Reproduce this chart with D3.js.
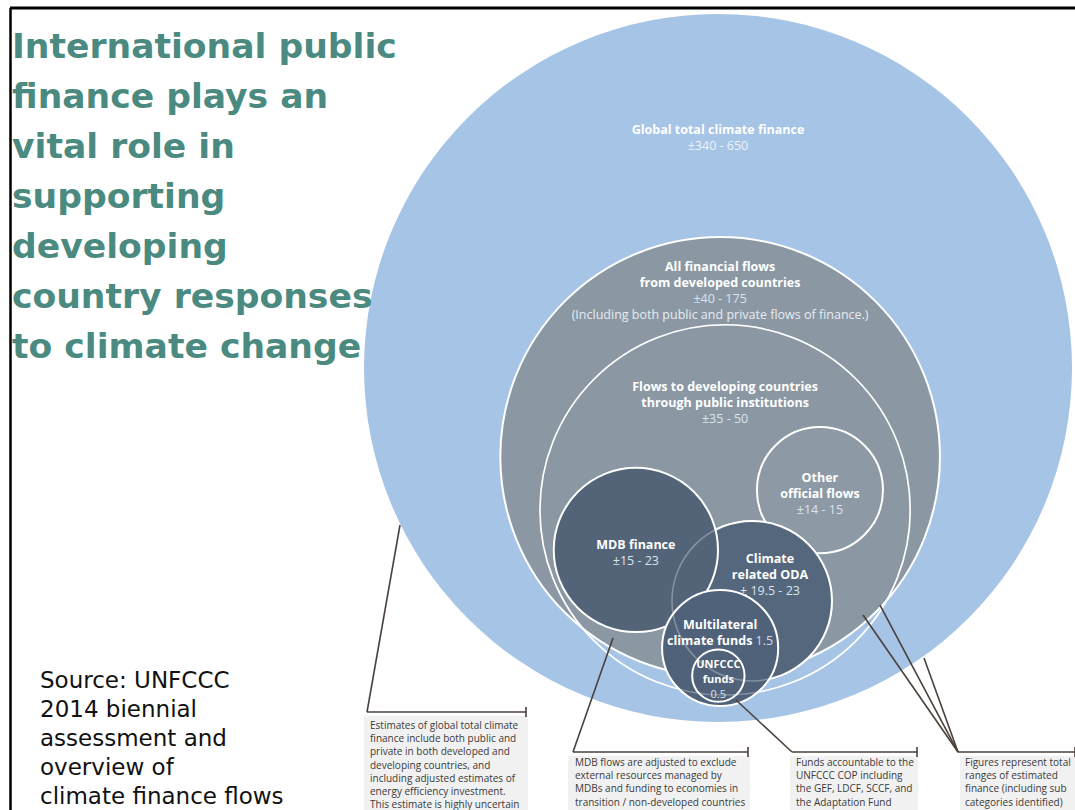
<!DOCTYPE html>
<html>
<head>
<meta charset="utf-8">
<script src="https://cdn.jsdelivr.net/npm/d3@7"></script>
<style>
  body { margin: 0; background: #fff; }
  svg { display: block; }
</style>
</head>
<body>
<div id="chart"></div>
<script>
// circle names, bold label lines and the range text shown under them
const circleNames = ["global", "allFlows", "publicInst", "otherOfficial", "oda", "mdb", "multilateral", "unfccc"];
const circleLabels = [
  ["Global total climate finance"],
  ["All financial flows", "from developed countries"],
  ["Flows to developing countries", "through public institutions"],
  ["Other", "official flows"],
  ["Climate", "related ODA"],
  ["MDB finance"],
  ["Multilateral", "climate funds"],
  ["UNFCCC", "funds"]
];
const circleRanges = ["±340 - 650", "±40 - 175", "±35 - 50", "±14 - 15", "± 19.5 - 23", "±15 - 23", "1.5", "0.5"];
const circleNotes = ["", "(Including both public and private flows of finance.)", "", "", "", "", "", ""];

const titleLines = ["International public", "finance plays an", "vital role in", "supporting", "developing", "country responses", "to climate change"];
const sourceLines = ["Source: UNFCCC", "2014 biennial", "assessment and", "overview of", "climate finance flows"];

const noteTexts = [
  ["Estimates of global total climate", "finance include both public and", "private in both developed and", "developing countries, and", "including adjusted estimates of", "energy efficiency investment.", "This estimate is highly uncertain"],
  ["MDB flows are adjusted to exclude", "external resources managed by", "MDBs and funding to economies in", "transition / non-developed countries"],
  ["Funds accountable to the", "UNFCCC COP including", "the GEF, LDCF, SCCF, and", "the Adaptation Fund"],
  ["Figures represent total", "ranges of estimated", "finance (including sub", "categories identified)"]
];

// layout in diagram units: big circle centred at 0,0 with radius 100
const layout = [
  { cx: 0, cy: 0, r: 100 },
  { cx: 0.6, cy: 25.1, r: 62.1 },
  { cx: 2.0, cy: 40.1, r: 52.3 },
  { cx: 28.8, cy: 34.5, r: 17.8 },
  { cx: 9.6, cy: 65.8, r: 22.6 },
  { cx: -23.2, cy: 51.4, r: 23.2 },
  { cx: 0.6, cy: 79.1, r: 16.4 },
  { cx: 0.1, cy: 86.9, r: 7.4 }
];
const fills = ["#a6c4e6", "#8b98a3", "none", "#8d9aa5", "#55677c", "#536479", "#506279", "#506279"];
const labelTop = [134, 271, 391, 482, 563, 549, 629, 668];
const labelDx = [0, 0, 0, 0, 18, 0, 0, 0];

const W = 1075, H = 810;
const svg = d3.select("#chart").append("svg").attr("width", W).attr("height", H);

const x = d3.scaleLinear().domain([-100, 100]).range([364, 1072]);
const y = d3.scaleLinear().domain([-100, 100]).range([14, 722]);
const r = d3.scaleLinear().domain([0, 100]).range([0, 354]);

const nodes = circleNames.map((n, i) => ({ name: n, lines: circleLabels[i], range: circleRanges[i], note: circleNotes[i], ...layout[i], fill: fills[i], top: labelTop[i], dx: labelDx[i] }));

// circles
svg.selectAll("circle.bubble")
  .data(nodes)
  .join("circle")
  .attr("class", "bubble")
  .attr("cx", d => x(d.cx))
  .attr("cy", d => y(d.cy))
  .attr("r", d => r(d.r))
  .attr("fill", d => d.fill)
  .attr("stroke", (d, i) => i === 0 ? "none" : "#fff")
  .attr("stroke-width", (d, i) => i === 2 ? 1.6 : 2);

// faint outlines showing through the overlaps
svg.selectAll("circle.ghost")
  .data(nodes.filter(d => ["publicInst", "oda"].includes(d.name)))
  .join("circle")
  .attr("class", "ghost")
  .attr("cx", d => x(d.cx))
  .attr("cy", d => y(d.cy))
  .attr("r", d => r(d.r))
  .attr("fill", "none")
  .attr("stroke", "#fff")
  .attr("stroke-opacity", 0.3)
  .attr("stroke-width", 1.5);

// circle labels
nodes.forEach(d => {
  const small = d.name === "unfccc";
  const lineH = small ? 15 : 16;
  const g = svg.append("text")
    .attr("text-anchor", "middle")
    .style("font-family", "'Open Sans', sans-serif")
    .style("font-size", small ? "11px" : "12.5px");
  const cxp = x(d.cx) + d.dx;
  d.lines.forEach((t, j) => {
    g.append("tspan").attr("x", cxp).attr("y", d.top + j * lineH)
      .attr("fill", "#fff").attr("font-weight", 700).text(t);
    if (d.name === "multilateral" && j === 1) {
      g.append("tspan").attr("fill", "#d3dde8").attr("font-weight", 400).text(" " + d.range);
    }
  });
  if (d.name !== "multilateral") {
    g.append("tspan").attr("x", cxp).attr("y", d.top + d.lines.length * lineH)
      .attr("fill", d.name === "global" ? "#eef3f9" : "#dbe4ee").attr("font-weight", 400).text(d.range);
  }
  if (d.note) {
    g.append("tspan").attr("x", cxp).attr("y", d.top + (d.lines.length + 1) * lineH)
      .attr("fill", "#e6ecf2").attr("font-weight", 400).text(d.note);
  }
});

// annotation boxes
const boxes = [
  { x0: 364, x1: 528, y0: 716, lineY: 712, tx: 370, ty: 729 },
  { x0: 568, x1: 750, y0: 756, lineY: 752, tx: 575, ty: 766 },
  { x0: 790, x1: 918, y0: 756, lineY: 752, tx: 796, ty: 766 },
  { x0: 960, x1: 1075, y0: 756, lineY: 752, tx: 965, ty: 766 }
];
const leaders = [
  [[400, 525], [367, 712]],
  [[613, 638], [573, 752]],
  [[736, 700], [792, 752]],
  [[863, 615], [958, 752]],
  [[880, 605], [958, 752]],
  [[924, 658], [958, 752]]
];
const ink = "#4a403b";

boxes.forEach((b, i) => {
  svg.append("rect").attr("x", b.x0).attr("y", b.y0).attr("width", b.x1 - b.x0).attr("height", H - b.y0).attr("fill", "#f1f1f1");
  const t = svg.append("text").style("font-family", "'Open Sans', sans-serif").style("font-size", "10px").attr("fill", "#3a3a3a");
  noteTexts[i].forEach((s, j) => t.append("tspan").attr("x", b.tx).attr("y", b.ty + j * 13.2).text(s));
});

leaders.forEach(l => {
  svg.append("line").attr("x1", l[0][0]).attr("y1", l[0][1]).attr("x2", l[1][0]).attr("y2", l[1][1])
    .attr("stroke", ink).attr("stroke-width", 1.6);
});
[[367, 526, 712], [573, 748, 752], [792, 917, 752], [958, 1075, 752]].forEach(h => {
  svg.append("line").attr("x1", h[0]).attr("y1", h[2]).attr("x2", h[1]).attr("y2", h[2]).attr("stroke", ink).attr("stroke-width", 1.6);
  svg.append("line").attr("x1", h[1]).attr("y1", h[2] - 5).attr("x2", h[1]).attr("y2", h[2] + 5).attr("stroke", ink).attr("stroke-width", 1.6);
});

// title
const title = svg.append("text")
  .style("font-family", "'DejaVu Sans', Verdana, sans-serif")
  .style("font-weight", 700)
  .style("font-size", "34.6px")
  .attr("fill", "#4a8a80");
titleLines.forEach((s, i) => title.append("tspan").attr("x", 12).attr("y", 58 + i * 50).text(s));

// source
const src = svg.append("text")
  .style("font-family", "'DejaVu Sans', Verdana, sans-serif")
  .style("font-size", "23px")
  .attr("fill", "#111");
sourceLines.forEach((s, i) => src.append("tspan").attr("x", 40).attr("y", 688 + i * 29).text(s));

// frame
svg.append("line").attr("x1", 10).attr("y1", 8).attr("x2", W).attr("y2", 8).attr("stroke", "#000").attr("stroke-width", 3);
svg.append("line").attr("x1", 10.5).attr("y1", 8).attr("x2", 10.5).attr("y2", H).attr("stroke", "#000").attr("stroke-width", 2.5);
</script>
</body>
</html>
